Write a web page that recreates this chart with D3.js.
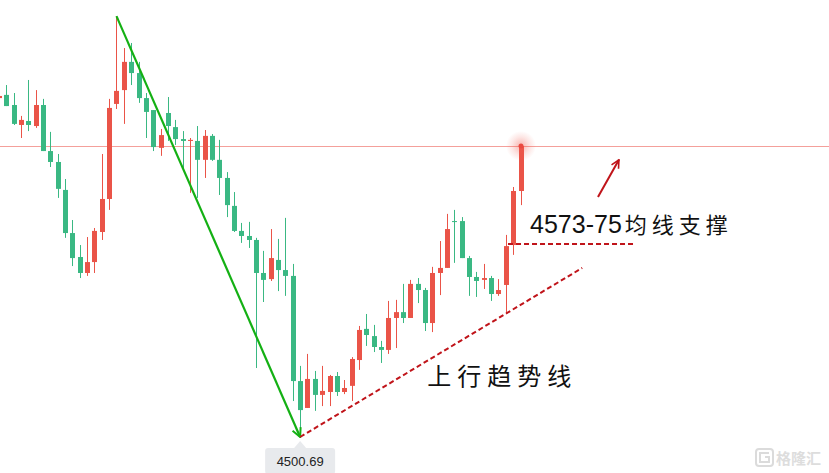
<!DOCTYPE html>
<html>
<head>
<meta charset="utf-8">
<script src="https://cdn.jsdelivr.net/npm/d3@7"></script>
<style>
html,body{margin:0;padding:0;background:#fff;overflow:hidden;}
svg{display:block;}
</style>
</head>
<body>
<svg id="chart" width="829" height="473"></svg>
<script>
// ---- data (candles, index order) ----
const opens  = [4628.0,4629.2,4625.4,4617.9,4619.4,4617.5,4625.4,4608.1,4604.0,4593.5,4577.3,4568.3,4562.3,4566.4,4577.7,4590.1,4625.8,4631.0,4641.6,4637.4,4628.0,4623.5,4609.3,4622.4,4617.1,4612.6,4611.9,4611.9,4604.8,4613.8,4604.8,4598.0,4587.5,4578.1,4576.2,4574.7,4562.3,4560.0,4567.2,4563.4,4561.2,4521.7,4511.6,4522.5,4516.5,4517.6,4523.6,4517.6,4519.9,4529.6,4541.3,4538.6,4534.5,4533.4,4545.4,4547.6,4545.4,4558.2,4555.9,4543.5,4562.3,4564.2,4581.8,4581.8,4567.9,4560.8,4559.7,4560.4,4554.4,4557.8,4572.8,4593.1];
const highs  = [4629.2,4632.9,4629.9,4621.3,4634.8,4631.0,4627.7,4615.3,4607.0,4597.6,4582.2,4572.8,4575.8,4579.2,4607.0,4627.7,4658.8,4646.8,4648.7,4641.6,4629.9,4623.5,4616.4,4628.4,4619.8,4615.6,4613.0,4617.5,4616.0,4614.5,4612.3,4600.2,4592.7,4581.1,4581.5,4575.5,4570.6,4578.8,4575.1,4583.0,4565.7,4527.4,4531.9,4525.5,4527.4,4524.0,4525.1,4522.1,4530.7,4542.4,4546.9,4542.8,4536.8,4551.8,4552.2,4558.2,4559.7,4560.4,4556.7,4564.6,4574.3,4584.5,4586.0,4583.3,4568.7,4562.7,4565.7,4561.2,4560.0,4576.6,4594.6,4610.4];
const lows   = [4627.7,4625.0,4617.9,4613.0,4615.6,4616.8,4608.1,4602.1,4590.5,4575.5,4564.9,4560.4,4561.2,4562.3,4574.7,4586.0,4623.9,4618.3,4632.9,4626.2,4613.0,4608.1,4606.3,4611.9,4610.4,4601.0,4592.4,4590.5,4598.0,4604.4,4591.6,4583.3,4577.7,4573.6,4571.7,4526.6,4551.4,4559.3,4555.5,4553.7,4514.2,4500.69,4511.6,4510.5,4512.3,4512.3,4516.1,4516.8,4514.2,4525.9,4534.9,4532.6,4528.5,4531.9,4534.1,4543.5,4545.4,4551.0,4540.5,4540.1,4554.0,4564.2,4566.1,4567.9,4553.7,4553.3,4556.3,4551.8,4553.7,4547.3,4569.1,4587.8];
const closes = [4628.8,4625.0,4618.3,4619.8,4617.9,4625.4,4608.1,4604.0,4593.9,4577.3,4567.9,4562.3,4566.4,4578.1,4590.1,4624.3,4630.7,4641.6,4637.4,4628.0,4622.8,4609.6,4614.1,4617.5,4612.6,4611.9,4612.3,4604.8,4613.8,4604.8,4598.0,4587.8,4578.1,4576.2,4574.7,4562.3,4559.7,4567.9,4563.4,4561.2,4521.7,4510.8,4522.5,4516.5,4518.0,4523.6,4517.6,4519.1,4530.0,4540.9,4539.0,4534.5,4533.4,4545.4,4547.6,4545.4,4558.2,4555.9,4543.5,4562.3,4564.2,4578.8,4581.5,4567.9,4560.8,4559.3,4560.4,4554.4,4555.9,4572.4,4593.1,4610.0];

// reference level (thin horizontal line)
const resistance = 4610.0;
// annotations in data space: [candle index, price]
const downTrend  = [[16, 4658.8], [41, 4500.69]];
const upTrend    = [[41, 4500.69], [79.4, 4564.2]];
const maSupport  = [[69.3, 4573.2], [86.7, 4573.2]];
const upArrow    = [[81.55, 4590.8], [84.4, 4604.8]];
const labelMA    = "4573-75均线支撑";
const labelMAPos = [72.3, 4577.2];
const labelUp    = "上行趋势线";
const labelUpPos = [58.3, 4520.3];
const watermark  = "格隆汇";

const n = opens.length;
const candles = d3.range(n).map(i => ({i, o: opens[i], h: highs[i], l: lows[i], c: closes[i]}));

const W = 829, H = 473;
const svg = d3.select("#chart");

const x = d3.scaleLinear().domain([0, n - 1]).range([-1.05, 520.5]);
const lowMin = d3.min(lows);
const y = d3.scaleLinear().domain([lowMin, resistance]).range([437, 146]);

const UP = "#ea5448", DOWN = "#3ab883";
const bodyW = 5;

const defs = svg.append("defs");
const glow = defs.append("radialGradient").attr("id", "glow");
glow.append("stop").attr("offset", "0%").attr("stop-color", "#f05a4e").attr("stop-opacity", 0.45);
glow.append("stop").attr("offset", "60%").attr("stop-color", "#f05a4e").attr("stop-opacity", 0.15);
glow.append("stop").attr("offset", "100%").attr("stop-color", "#f05a4e").attr("stop-opacity", 0);

defs.append("marker").attr("id", "arrG").attr("viewBox", "0 0 10 10")
  .attr("refX", 9).attr("refY", 5).attr("markerWidth", 5).attr("markerHeight", 5)
  .attr("orient", "auto").attr("markerUnits", "strokeWidth")
  .append("path").attr("d", "M1,1 L9,5 L1,9").attr("fill", "none")
  .attr("stroke", "#14b014").attr("stroke-width", 1.8);

defs.append("marker").attr("id", "arrR").attr("viewBox", "0 0 10 10")
  .attr("refX", 9).attr("refY", 5).attr("markerWidth", 5).attr("markerHeight", 5)
  .attr("orient", "auto").attr("markerUnits", "strokeWidth")
  .append("path").attr("d", "M1,1 L9,5 L1,9").attr("fill", "none")
  .attr("stroke", "#c0141a").attr("stroke-width", 1.6);

// resistance line
svg.append("line")
  .attr("x1", 0).attr("x2", W)
  .attr("y1", Math.round(y(resistance)) + 0.5).attr("y2", Math.round(y(resistance)) + 0.5)
  .attr("stroke", "#f4a09b").attr("stroke-width", 1);

// candles
const g = svg.append("g");
const cg = g.selectAll("g.c").data(candles).join("g").attr("class", "c");
cg.append("line")
  .attr("x1", d => Math.round(x(d.i)) + 0.5).attr("x2", d => Math.round(x(d.i)) + 0.5)
  .attr("y1", d => y(d.h)).attr("y2", d => y(d.l))
  .attr("stroke", d => d.c >= d.o ? UP : DOWN).attr("stroke-width", 1);
cg.append("rect")
  .attr("x", d => Math.round(x(d.i)) + 0.5 - bodyW / 2)
  .attr("width", bodyW)
  .attr("y", d => y(Math.max(d.o, d.c)))
  .attr("height", d => Math.max(1, Math.abs(y(d.o) - y(d.c))))
  .attr("fill", d => d.c >= d.o ? UP : DOWN);

// glow on last candle high
const last = candles[n - 1];
svg.append("circle").attr("cx", x(last.i) + 0.5).attr("cy", y(last.h) + 1).attr("r", 15).attr("fill", "url(#glow)");
svg.append("circle").attr("cx", x(last.i) + 0.5).attr("cy", y(last.h) + 1).attr("r", 2.5).attr("fill", "#ea4a40");

const line = d3.line().x(d => x(d[0])).y(d => y(d[1]));

// green down trend arrow
svg.append("path").attr("d", line(downTrend))
  .attr("fill", "none").attr("stroke", "#14b014").attr("stroke-width", 2.2)
  .attr("marker-end", "url(#arrG)");

// red dashed up trend
svg.append("path").attr("d", line(upTrend))
  .attr("fill", "none").attr("stroke", "#c0141a").attr("stroke-width", 2)
  .attr("stroke-dasharray", "5,3");

// MA support dashed
svg.append("path").attr("d", line(maSupport))
  .attr("fill", "none").attr("stroke", "#c0141a").attr("stroke-width", 2)
  .attr("stroke-dasharray", "5,3");

// small up arrow
svg.append("path").attr("d", line(upArrow))
  .attr("fill", "none").attr("stroke", "#c0141a").attr("stroke-width", 2)
  .attr("marker-end", "url(#arrR)");

// texts
const maT = svg.append("text")
  .attr("x", x(labelMAPos[0])).attr("y", y(labelMAPos[1]))
  .attr("fill", "#111");
const m = labelMA.match(/^([0-9\-]+)(.*)$/);
maT.append("tspan").text(m[1])
  .attr("font-family", "Liberation Sans, Arial, sans-serif").attr("font-size", 25);
maT.append("tspan").text(m[2])
  .attr("font-family", "Noto Sans CJK SC, sans-serif").attr("font-size", 22)
  .attr("letter-spacing", 5).attr("dx", 3);

svg.append("text")
  .attr("x", x(labelUpPos[0])).attr("y", y(labelUpPos[1]))
  .attr("font-family", "Noto Sans CJK SC, sans-serif").attr("font-size", 24)
  .attr("letter-spacing", 6).attr("fill", "#111")
  .text(labelUp);

// low price label
const lowIdx = d3.minIndex(lows);
const lx = x(lowIdx), ly = 448;
const lbl = svg.append("g");
lbl.append("path")
  .attr("d", `M${lx - 6},${ly} L${lx},${ly - 7} L${lx + 6},${ly} Z`).attr("fill", "#e8eaed");
lbl.append("rect").attr("x", lx - 35).attr("y", ly).attr("width", 70).attr("height", 26)
  .attr("rx", 3).attr("fill", "#e8eaed");
lbl.append("text").attr("x", lx).attr("y", ly + 18).attr("text-anchor", "middle")
  .attr("font-family", "Liberation Sans, Arial, sans-serif").attr("font-size", 13)
  .attr("fill", "#222").text(d3.format(".2f")(lowMin));

// watermark
const wm = svg.append("g").attr("opacity", 0.9);
wm.append("rect").attr("x", 756).attr("y", 449).attr("width", 17).attr("height", 17).attr("rx", 3)
  .attr("fill", "none").attr("stroke", "#d8d8d8").attr("stroke-width", 2);
wm.append("path").attr("d", "M769,453 L760,453 L760,462 L769,462 L769,457 L765,457")
  .attr("fill", "none").attr("stroke", "#d8d8d8").attr("stroke-width", 2);
wm.append("text").attr("x", 776).attr("y", 464)
  .attr("font-family", "Noto Sans CJK SC, sans-serif").attr("font-size", 15)
  .attr("font-weight", 700).attr("fill", "#dadada").text(watermark);
</script>
</body>
</html>
